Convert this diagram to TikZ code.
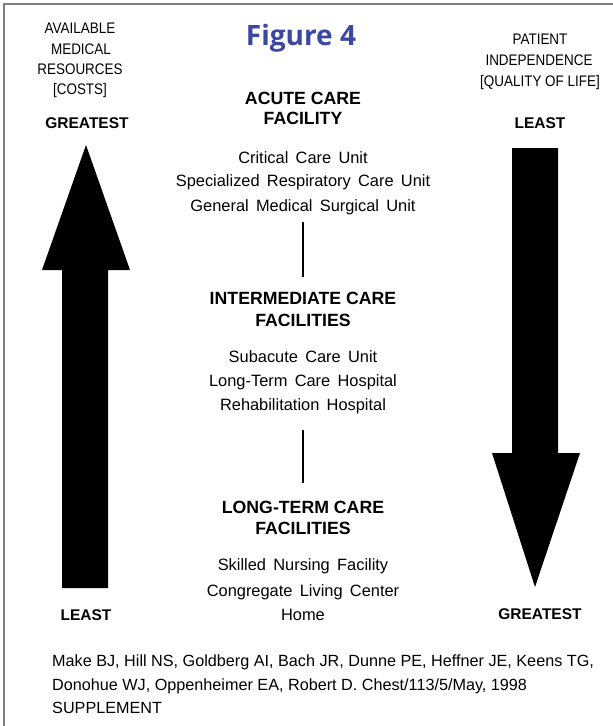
\documentclass[tikz,border=0pt]{standalone}
\usepackage{fontspec}
\setmainfont{Liberation Sans}
\newfontfamily\narrowfont[FakeStretch=0.88]{Liberation Sans}
\newfontfamily\widefont[WordSpace=1.6]{Liberation Sans}
\newfontfamily\titlefont{Open Sans}
\definecolor{figblue}{RGB}{60,72,160}
\definecolor{framegray}{RGB}{128,128,128}
\begin{document}
\begin{tikzpicture}[
    x=1pt, y=-1pt,
    head/.style={anchor=base, inner sep=2pt, font=\fontsize{17.7}{17.7}\selectfont\bfseries},
    item/.style={anchor=base, inner sep=2pt, font=\widefont\fontsize{16.4}{16.4}\selectfont},
    side/.style={anchor=base, inner sep=2pt, font=\narrowfont\fontsize{15.3}{15.3}\selectfont},
    sidebold/.style={anchor=base, inner sep=2pt, font=\fontsize{15.5}{15.5}\selectfont\bfseries},
    cite/.style={anchor=base west, inner sep=0pt, font=\fontsize{16.2}{16.2}\selectfont},
    connector/.style={draw, line width=1.2pt},
    bigarrow/.style={fill=black}
]
\useasboundingbox (0,0) rectangle (613,726);
% frame
\draw[framegray, line width=1.5pt] (4,726) -- (4,4) -- (613,4);
% title
\node[anchor=base, inner sep=0pt, text=figblue, font=\titlefont\fontsize{28}{28}\selectfont\bfseries] (title) at (301,45) {Figure 4};
% left column
\node[side] (avail) at (80,33) {AVAILABLE};
\node[side] (medical) at (81,54) {MEDICAL};
\node[side] (resources) at (80,74) {RESOURCES};
\node[side] (costs) at (80,94) {[COSTS]};
\node[sidebold] (lgreat) at (87,128) {GREATEST};
\node[sidebold] (lleast) at (86,620) {LEAST};
% right column
\node[side] (patient) at (540,44) {PATIENT};
\node[side] (indep) at (539,65) {INDEPENDENCE};
\node[side] (qol) at (540,86) {[QUALITY OF LIFE]};
\node[sidebold] (rleast) at (540,128) {LEAST};
\node[sidebold] (rgreat) at (540,619) {GREATEST};
% arrows
\fill[bigarrow] (62,588) -- (62,270) -- (42,270) -- (86,145) -- (130,270) -- (108,270) -- (108,588) -- cycle;
\fill[bigarrow] (512,148) -- (512,453) -- (492,453) -- (535,587) -- (580,453) -- (558,453) -- (558,148) -- cycle;
% acute care
\node[head] (acute1) at (303,104) {ACUTE CARE};
\node[head] (acute2) at (303,124) {FACILITY};
\node[item] (crit) at (303,163) {Critical Care Unit};
\node[item] (resp) at (303,186) {Specialized Respiratory Care Unit};
\node[item] (gen) at (303,211) {General Medical Surgical Unit};
% intermediate care
\node[head] (inter1) at (303,304) {INTERMEDIATE CARE};
\node[head] (inter2) at (303,326) {FACILITIES};
\node[item] (sub) at (303,362) {Subacute Care Unit};
\node[item] (ltch) at (303,386) {Long-Term Care Hospital};
\node[item] (rehab) at (303,410) {Rehabilitation Hospital};
% long-term care
\node[head] (long1) at (303,513) {LONG-TERM CARE};
\node[head] (long2) at (303,534) {FACILITIES};
\node[item] (snf) at (303,570) {Skilled Nursing Facility};
\node[item] (clc) at (303,596) {Congregate Living Center};
\node[item] (home) at (303,620) {Home};
% connectors
\draw[connector, shorten <=5.6pt, shorten >=12.4pt] (gen.south) -- (inter1.north);
\draw[connector, shorten <=14.5pt, shorten >=15.7pt] (rehab.south) -- (long1.north);
% citation
\node[cite] (cite1) at (52,666) {Make BJ, Hill NS, Goldberg AI, Bach JR, Dunne PE, Heffner JE, Keens TG,};
\node[cite] (cite2) at (52,690) {Donohue WJ, Oppenheimer EA, Robert D. Chest/113/5/May, 1998};
\node[cite] (cite3) at (52,713) {SUPPLEMENT};
\end{tikzpicture}
\end{document}
